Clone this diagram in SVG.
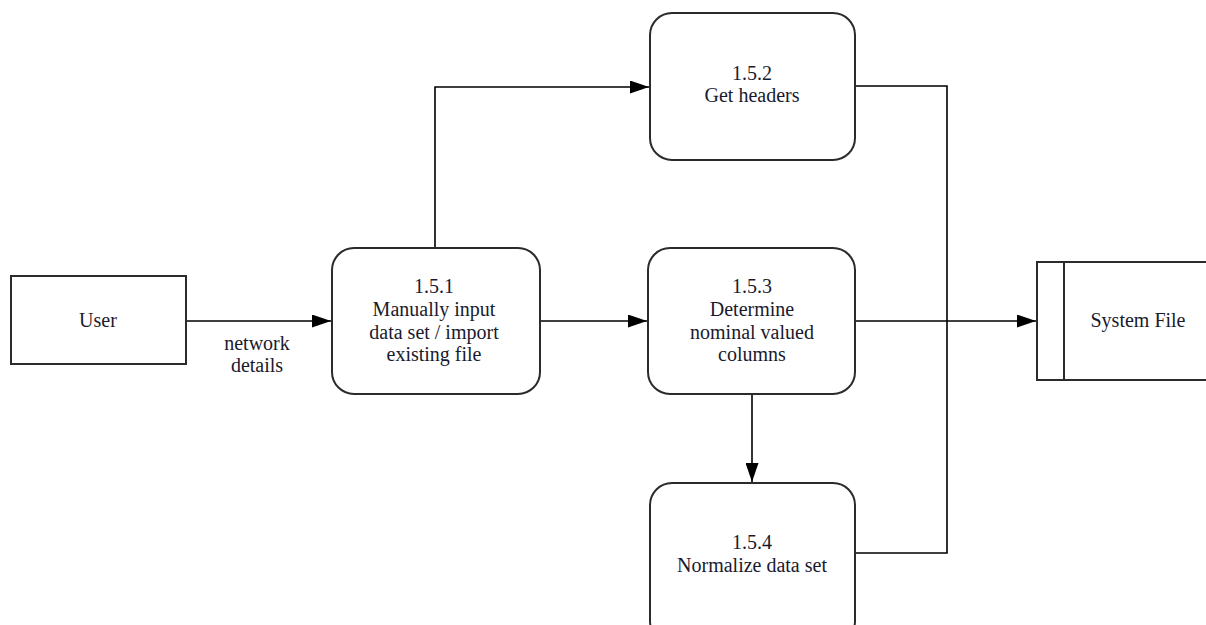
<svg xmlns="http://www.w3.org/2000/svg" width="1206" height="625" viewBox="0 0 1206 625">
  <style>
    .box { fill: #ffffff; stroke: #2b2b2b; stroke-width: 2; }
    .flow { fill: none; stroke: #000000; stroke-width: 1.6; }
    text { font-family: "Liberation Serif", "Times New Roman", serif; font-size: 20px; fill: #1a1a2e; text-anchor: middle; }
  </style>
  <defs>
    <marker id="arrow" viewBox="0 0 19 13" refX="19" refY="6.5" markerWidth="19" markerHeight="13" markerUnits="userSpaceOnUse" orient="auto">
      <path d="M0,0 L19,6.5 L0,13 Z" fill="#000000"/>
    </marker>
  </defs>

  <rect width="1206" height="625" fill="#ffffff"/>

  <!-- connectors -->
  <g id="connectors">
    <line class="flow" x1="186" y1="321" x2="331" y2="321" marker-end="url(#arrow)"/>
    <polyline class="flow" points="435,248 435,87 649,87" marker-end="url(#arrow)"/>
    <line class="flow" x1="540" y1="321" x2="647" y2="321" marker-end="url(#arrow)"/>
    <line class="flow" x1="855" y1="321" x2="1036" y2="321" marker-end="url(#arrow)"/>
    <line class="flow" x1="752" y1="394" x2="752" y2="482" marker-end="url(#arrow)"/>
    <polyline class="flow" points="855,86 947,86 947,553 855,553"/>
    <text x="257" y="350">network</text>
    <text x="257" y="372">details</text>
  </g>

  <!-- external entity -->
  <g id="user">
    <rect class="box" x="11" y="276" width="175" height="88"/>
    <text x="98" y="327">User</text>
  </g>

  <!-- processes -->
  <g id="p151">
    <rect class="box" x="332" y="248" width="208" height="146" rx="22" ry="22"/>
    <text x="434" y="293">1.5.1</text>
    <text x="434" y="316">Manually input</text>
    <text x="434" y="339">data set / import</text>
    <text x="434" y="361">existing file</text>
  </g>

  <g id="p152">
    <rect class="box" x="650" y="13" width="205" height="147" rx="22" ry="22"/>
    <text x="752" y="80">1.5.2</text>
    <text x="752" y="102">Get headers</text>
  </g>

  <g id="p153">
    <rect class="box" x="648" y="248" width="207" height="146" rx="22" ry="22"/>
    <text x="752" y="293">1.5.3</text>
    <text x="752" y="316">Determine</text>
    <text x="752" y="339">nominal valued</text>
    <text x="752" y="361">columns</text>
  </g>

  <g id="p154">
    <rect class="box" x="650" y="483" width="205" height="160" rx="22" ry="22"/>
    <text x="752" y="549">1.5.4</text>
    <text x="752" y="572">Normalize data set</text>
  </g>

  <!-- data store -->
  <g id="system-file">
    <rect class="box" x="1037" y="262" width="190" height="118"/>
    <line class="box" x1="1064" y1="262" x2="1064" y2="380"/>
    <text x="1138" y="327">System File</text>
  </g>
</svg>
